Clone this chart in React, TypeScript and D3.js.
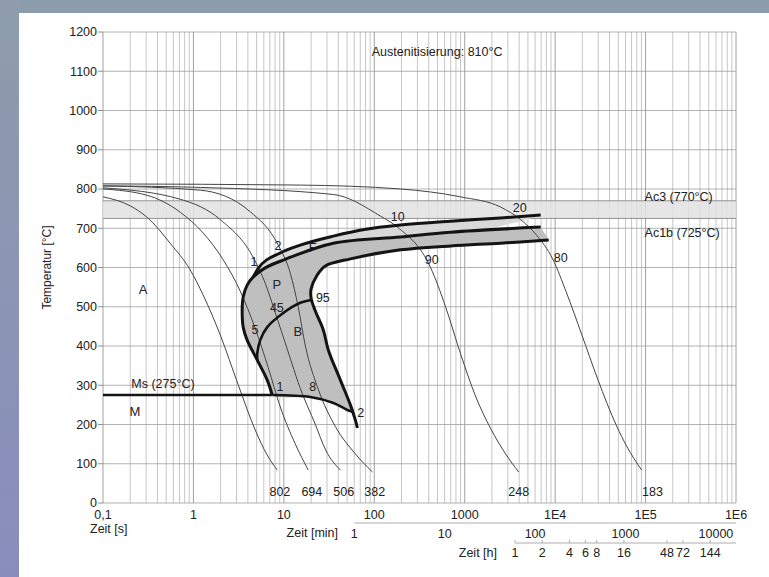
import React from "react";
import * as d3 from "d3";

type P = [number, number];

// ---- axis ticks ----
const tempTicks = [0, 100, 200, 300, 400, 500, 600, 700, 800, 900, 1000, 1100, 1200];
const secTickValues = [0.1, 1, 10, 100, 1000, 1e4, 1e5, 1e6];
const secTickLabels = ["0,1", "1", "10", "100", "1000", "1E4", "1E5", "1E6"];
const minTickValues = [1, 10, 100, 1000, 10000];
const hourTickValues = [1, 2, 4, 6, 8, 16, 48, 72, 144];
const hourTickLabels = ["1", "2", "4", "6", "8", "16", "48", "72", "144"];

// ---- cooling curves [time s, temp °C] ----
const c802: P[] = [[0.1, 780], [0.2, 757], [0.307, 728], [0.552, 662], [0.92, 594], [1.28, 530], [1.98, 428], [3.13, 301], [4.82, 186], [6.55, 122], [8.45, 84]];
const c694: P[] = [[0.1, 800], [0.307, 784], [0.713, 741], [1.28, 688], [2.13, 620], [3.29, 540], [4.82, 445], [6.72, 345], [9.12, 245], [13.4, 150], [18.6, 84]];
const c506: P[] = [[0.1, 803], [0.713, 774], [1.98, 722], [4.7, 621], [6.22, 560], [8.03, 485], [10.9, 392], [15.2, 292], [22.3, 200], [29, 135], [42.2, 84]];
const c382: P[] = [[0.1, 808], [1.19, 797], [4.25, 742], [8.67, 657], [11.8, 585], [14.4, 500], [17.3, 400], [24, 290], [37.1, 195], [61.8, 125], [95.3, 79]];
const c248: P[] = [[0.1, 808], [1.19, 804], [35.3, 786], [117, 731], [180, 703], [419, 600], [614, 500], [900, 380], [1318, 272], [1932, 190], [2834, 125], [3945, 79]];
const c183: P[] = [[0.1, 813], [15.2, 810], [195, 800], [900, 780], [2493, 754], [4150, 722], [6252, 682], [9376, 622], [13390, 535], [19630, 430], [29510, 316], [47860, 196], [61700, 145], [90400, 84]];
const coolingCurves = [c802, c694, c506, c382, c248, c183];

// ---- transformation lines ----
const ferriteStart: P[] = [[4.59, 576], [5.21, 598], [9.12, 637], [15.2, 657], [35.3, 680], [83.9, 698], [195, 708], [697, 718], [2493, 726], [6918, 734]];
const pearliteStart: P[] = [[6918, 703], [697, 690], [195, 678], [35.3, 662], [9.85, 619], [6.22, 599], [4.59, 576], [3.93, 555], [3.55, 525], [3.46, 492], [3.55, 448], [3.93, 415], [5.08, 364], [6.55, 313], [7.44, 275]];
const innerBoundary: P[] = [[8487, 670], [2493, 662], [697, 655], [195, 645], [54.4, 622], [28.8, 604], [23.4, 581], [20, 545], [20, 522], [22.3, 489], [27.3, 441], [31, 390], [42.2, 313], [54.4, 250], [61.8, 211], [65, 191]];
const bainiteLine: P[] = [[20.6, 517], [15.2, 510], [9.85, 484], [6.55, 448], [5.48, 415], [5.08, 382], [5.08, 364]];
const msLine: P[] = [[0.1, 275], [5, 275], [7.44, 275], [19.6, 270], [35.3, 255], [50.4, 237], [58.7, 232]];
const ac3 = 770;
const ac1b = 725;

// ---- annotations [text, time s, temp °C] ----
const regionLabels: [string, number, number][] = [
  ["A", 0.277, 545], ["P", 8.37, 558], ["F", 20.9, 652], ["B", 14.3, 436], ["M", 0.226, 232],
];
const phaseNumbers: [string, number, number][] = [
  ["1", 4.67, 614], ["2", 8.59, 655], ["10", 182, 729], ["20", 4055, 752], ["90", 431, 619], ["80", 11510, 624],
  ["45", 8.37, 499], ["5", 4.79, 441], ["95", 27, 522], ["1", 9.04, 296], ["8", 20.9, 296], ["2", 71, 229],
];
const hardnessLabels: [string, number][] = [["802", 9.04], ["694", 20.4], ["506", 46], ["382", 101], ["248", 3954], ["183", 119400]];
const hardnessTemp = 28;

const W = 769;
const H = 577;
const FONT = "'Liberation Sans', Arial, sans-serif";

export default function App() {
  const x = d3.scaleLog().domain([0.1, 1e6]).range([103, 736]);
  const y = d3.scaleLinear().domain([0, 1200]).range([503, 32]);
  const line = d3.line<P>().x((d) => x(d[0])).y((d) => y(d[1])).curve(d3.curveCatmullRom.alpha(0.5));
  const smooth = d3.line<P>().x((d) => x(d[0])).y((d) => y(d[1])).curve(d3.curveMonotoneX);
  const straight = d3.line<P>().x((d) => x(d[0])).y((d) => y(d[1]));

  const gridV: number[] = [];
  for (let k = -1; k <= 5; k++) for (let m = 1; m <= 9; m++) gridV.push(m * Math.pow(10, k));
  gridV.push(1e6);

  const fPoly = [...ferriteStart, ...pearliteStart.slice(0, 7).reverse()];
  const innerRev = innerBoundary.slice(0, 14).reverse();
  const pbPoly = [...pearliteStart, ...msLine.slice(3), ...innerRev];

  const x0 = x(0.1), x1 = x(1e6);

  return (
    <svg width={W} height={H} style={{ position: "absolute", left: 0, top: 0 }} fontFamily={FONT}>
      <defs>
        <linearGradient id="leftBand" x1="0" y1="0" x2="0" y2="1">
          <stop offset="0" stopColor="#8e9dab" />
          <stop offset="1" stopColor="#898dbd" />
        </linearGradient>
      </defs>
      <rect x={0} y={0} width={W} height={H} fill="#ffffff" />
      <rect x={0} y={0} width={W} height={13} fill="#8d9cab" />
      <rect x={0} y={0} width={19} height={H} fill="url(#leftBand)" />

      {/* grid */}
      {gridV.map((v, i) => (
        <line key={"gv" + i} x1={x(v)} x2={x(v)} y1={y(1200)} y2={y(0)}
          stroke={Math.abs(Math.log10(v) - Math.round(Math.log10(v))) < 1e-9 ? "#8a8a8a" : "#b8b8b8"} strokeWidth={0.8} />
      ))}
      {tempTicks.map((t) => (
        <line key={"gh" + t} x1={x0} x2={x1} y1={y(t)} y2={y(t)} stroke="#a0a0a0" strokeWidth={0.8} />
      ))}

      {/* Ac band */}
      <rect x={x0} y={y(ac3)} width={x1 - x0} height={y(ac1b) - y(ac3)} fill="#e2e2e2" opacity={0.85} />
      <line x1={x0} x2={x1} y1={y(ac3)} y2={y(ac3)} stroke="#8a8a8a" strokeWidth={0.9} />
      <line x1={x0} x2={x1} y1={y(ac1b)} y2={y(ac1b)} stroke="#8a8a8a" strokeWidth={0.9} />

      {/* transformation fills */}
      <path d={line(fPoly) + "Z"} fill="#d8d8d8" stroke="none" />
      <path d={line(pbPoly) + "Z"} fill="#bfbfbf" stroke="none" />

      {/* cooling curves */}
      {coolingCurves.map((c, i) => (
        <path key={"c" + i} d={smooth(c) || ""} fill="none" stroke="#444" strokeWidth={1} />
      ))}

      {/* thick lines */}
      <path d={smooth(ferriteStart) || ""} fill="none" stroke="#141414" strokeWidth={3} strokeLinejoin="round" />
      <path d={line(pearliteStart) || ""} fill="none" stroke="#141414" strokeWidth={3} strokeLinejoin="round" />
      <path d={line(innerBoundary) || ""} fill="none" stroke="#141414" strokeWidth={3} strokeLinejoin="round" />
      <path d={line(bainiteLine) || ""} fill="none" stroke="#141414" strokeWidth={2.6} strokeLinejoin="round" />
      <path d={straight(msLine.slice(0, 3)) || ""} fill="none" stroke="#141414" strokeWidth={2.6} />
      <path d={line(msLine.slice(2)) || ""} fill="none" stroke="#141414" strokeWidth={2.6} />

      {/* y axis */}
      {tempTicks.map((t) => (
        <g key={"yt" + t}>
          <line x1={x0 - 5} x2={x0} y1={y(t)} y2={y(t)} stroke="#777" strokeWidth={0.8} />
          <text x={x0 - 6} y={y(t)} dy="0.35em" textAnchor="end" fontSize={12.5} fill="#222">{t}</text>
        </g>
      ))}
      <text transform={`translate(51,${y(600)}) rotate(-90)`} textAnchor="middle" fontSize={12} fill="#222">Temperatur [°C]</text>

      {/* seconds axis */}
      {secTickValues.map((v, i) => (
        <text key={"xs" + i} x={x(v)} y={519} textAnchor="middle" fontSize={12.5} fill="#222">{secTickLabels[i]}</text>
      ))}
      <text x={90} y={533} fontSize={12.5} fill="#222">Zeit [s]</text>

      {/* minutes axis */}
      <line x1={x(60)} x2={x1} y1={523} y2={523} stroke="#999" strokeWidth={0.8} />
      {minTickValues.map((v) => (
        <text key={"xm" + v} x={x(v * 60)} y={538} textAnchor="middle" fontSize={12.5} fill="#222">{v}</text>
      ))}
      <text x={338} y={537} textAnchor="end" fontSize={12.5} fill="#222">Zeit [min]</text>

      {/* hours axis */}
      <line x1={x(3600)} x2={x1} y1={543} y2={543} stroke="#999" strokeWidth={0.8} />
      {hourTickValues.map((v, i) => (
        <g key={"xh" + i}>
          <line x1={x(v * 3600)} x2={x(v * 3600)} y1={540} y2={543} stroke="#999" strokeWidth={0.8} />
          <text x={x(v * 3600)} y={557} textAnchor="middle" fontSize={12.5} fill="#222">{hourTickLabels[i]}</text>
        </g>
      ))}
      <text x={497} y={557} textAnchor="end" fontSize={12.5} fill="#222">Zeit [h]</text>

      {/* annotations */}
      <text x={x(93.8)} y={y(1149)} dy="0.35em" fontSize={12.5} fill="#222">Austenitisierung: 810°C</text>
      <text x={x(97500)} y={y(780)} dy="0.35em" fontSize={12.5} fill="#222">Ac3 (770°C)</text>
      <text x={x(97500)} y={y(690)} dy="0.35em" fontSize={12.5} fill="#222">Ac1b (725°C)</text>
      <text x={x(0.46)} y={y(303)} dy="0.35em" textAnchor="middle" fontSize={12.5} fill="#222">Ms (275°C)</text>
      {regionLabels.map(([s, t, T], i) => (
        <text key={"rl" + i} x={x(t)} y={y(T)} dy="0.35em" textAnchor="middle" fontSize={13} fill="#222">{s}</text>
      ))}
      {phaseNumbers.map(([s, t, T], i) => (
        <text key={"pn" + i} x={x(t)} y={y(T)} dy="0.35em" textAnchor="middle" fontSize={12.5} fill="#222">{s}</text>
      ))}
      {hardnessLabels.map(([s, t], i) => (
        <text key={"hl" + i} x={x(t)} y={y(hardnessTemp)} dy="0.35em" textAnchor="middle" fontSize={12.5} fill="#222">{s}</text>
      ))}
    </svg>
  );
}
